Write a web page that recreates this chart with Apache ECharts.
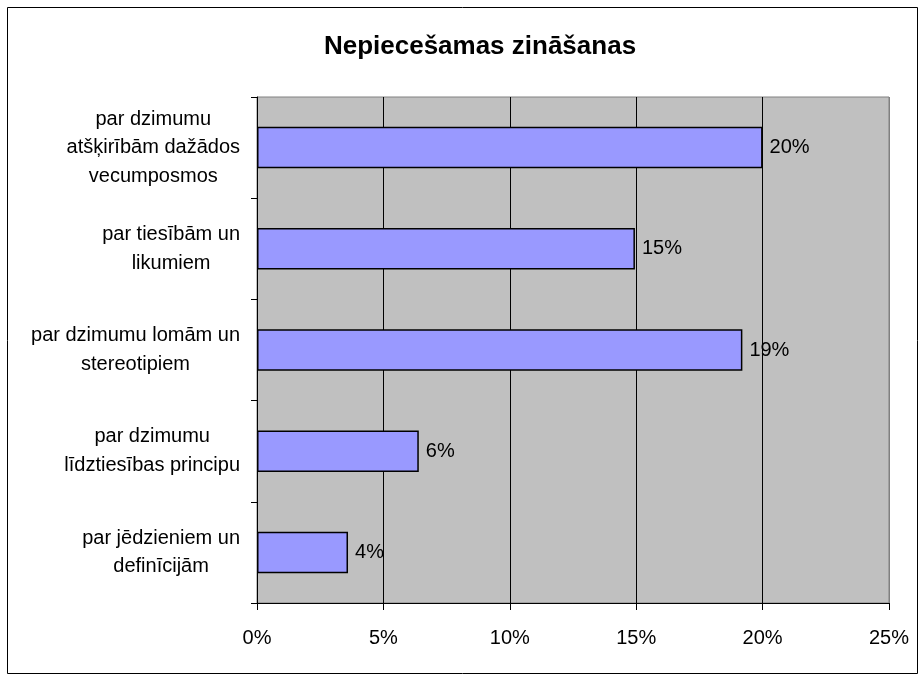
<!DOCTYPE html>
<html>
<head>
<meta charset="utf-8">
<script src="https://cdn.jsdelivr.net/npm/echarts@6/dist/echarts.min.js"></script>
<style>
  html, body { margin: 0; padding: 0; background: #fff; }
  #chart { width: 924px; height: 680px; }
</style>
</head>
<body>
<div id="chart"></div>
<script>
// kategorijas (no augšas uz leju)
var categories = [
  'par dzimumu\natšķirībām dažādos\nvecumposmos',
  'par tiesībām un\nlikumiem',
  'par dzimumu lomām un\nstereotipiem',
  'par dzimumu\nlīdztiesības principu',
  'par jēdzieniem un\ndefinīcijām'
]
// vērtības procentos
var values = [20.0, 14.95, 19.2, 6.4, 3.6]
var xTicks = [0, 5, 10, 15, 20, 25]

var font = '"Liberation Sans", Arial, sans-serif'
var chart = echarts.init(document.getElementById('chart'))

var option = {
  backgroundColor: '#fff',
  animation: false,
  title: {
    text: 'Nepiecešamas zināšanas',
    left: 475,
    textAlign: 'center',
    top: 29,
    textStyle: { fontFamily: font, fontSize: 26, fontWeight: 'bold', color: '#000' }
  },
  graphic: [{
    type: 'rect',
    shape: { x: 7.5, y: 7.5, width: 910, height: 666 },
    style: { fill: null, stroke: '#000', lineWidth: 1 },
    silent: true
  }],
  grid: {
    left: 257, right: 35, top: 97, bottom: 77,
    show: true,
    backgroundColor: '#c0c0c0',
    borderColor: '#808080',
    borderWidth: 1
  },
  xAxis: {
    type: 'value',
    min: xTicks[0],
    max: xTicks[xTicks.length - 1],
    interval: 5,
    axisLine: { show: true, lineStyle: { color: '#000', width: 1 } },
    axisTick: { show: true, length: 7, lineStyle: { color: '#000' } },
    axisLabel: {
      margin: 25,
      fontFamily: font, fontSize: 20, color: '#000',
      formatter: function (v) { return v + '%' }
    },
    splitLine: {
      show: true,
      lineStyle: { color: ['#000', '#000', '#000', '#000', '#000', '#808080'], width: 1 }
    }
  },
  yAxis: {
    type: 'category',
    inverse: true,
    data: categories,
    axisLine: { show: true, lineStyle: { color: '#000', width: 1 } },
    axisTick: { show: true, length: 6, lineStyle: { color: '#000' } },
    axisLabel: {
      margin: 17,
      formatter: function (v) {
        return v.split('\n').map(function (s) { return '{c|' + s + '}' }).join('\n')
      },
      rich: {
        c: { align: 'center', fontFamily: font, fontSize: 20, lineHeight: 28.5, color: '#000' }
      }
    },
    splitLine: { show: false }
  },
  series: [{
    type: 'bar',
    data: values,
    barCategoryGap: '59%',
    itemStyle: { color: '#9999ff', borderColor: '#000', borderWidth: 1.5 },
    label: {
      show: true,
      position: 'right',
      distance: 7,
      fontFamily: font, fontSize: 20, color: '#000',
      formatter: function (p) { return Math.round(p.value) + '%' }
    }
  }]
}
chart.setOption(option)
</script>
</body>
</html>
